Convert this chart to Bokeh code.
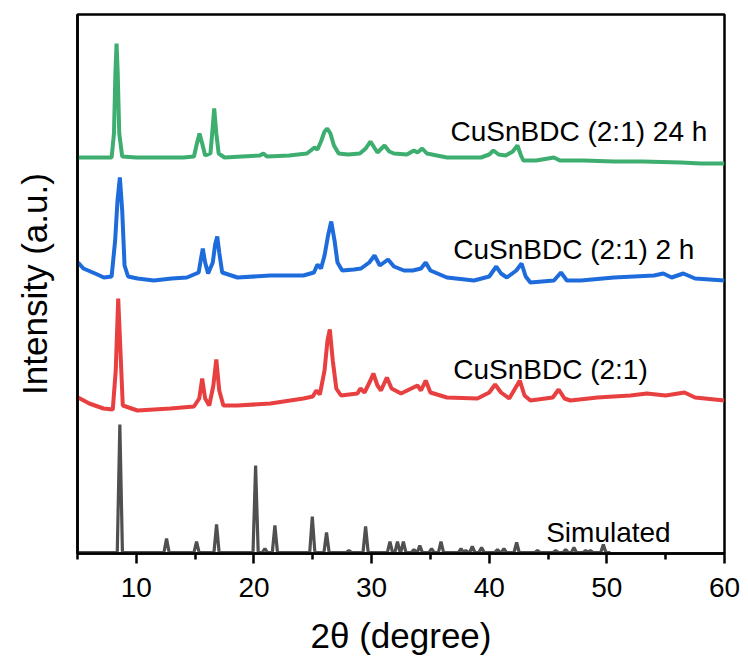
from bokeh.plotting import figure
from bokeh.models import Range1d, FixedTicker, Label
from bokeh.embed import file_html
from bokeh.resources import INLINE

# ---------------- data (offset-stacked intensities, a.u.) ----------------
# CuSnBDC (2:1) 24 h
g_x = [5.0, 7.5, 7.9, 8.1, 8.22, 8.32, 8.42, 8.55, 8.8, 10.0, 12.0, 14.0, 14.9, 15.15, 15.37, 15.6, 15.85,
       16.3, 16.45, 16.62, 16.8, 17.0, 17.5, 19.0, 20.5, 20.8, 21.1, 23.0, 24.5, 25.15, 25.4, 25.7, 26.0,
       26.23, 26.5, 26.8, 27.2, 28.0, 29.0, 29.5, 29.9, 30.5, 31.1, 31.5, 31.9, 33.0, 33.6, 33.9, 34.3,
       34.7, 36.4, 39.3, 40.0, 40.35, 40.8, 41.4, 42.0, 42.4, 42.7, 42.9, 44.0, 45.5, 46.0, 48.0, 50.6,
       53.0, 56.3, 58.0, 60.0]
g_y = [396, 396, 396, 420, 480, 510, 480, 420, 397, 396, 396, 396, 397, 410, 420, 410, 398,
       400, 420, 445, 420, 400, 396, 397, 398, 400, 397, 398, 400, 406, 404, 412, 422,
       425, 420, 408, 400, 399, 400, 405, 412, 401, 408, 402, 400, 399, 403, 401, 405,
       400, 396, 396, 399, 403, 399, 398, 402, 408, 398, 393, 393, 396, 393, 393, 392,
       392, 391, 390, 390]

# CuSnBDC (2:1) 2 h
b_x = [5.05, 5.5, 6.5, 7.24, 7.9, 8.2, 8.4, 8.6, 8.8, 9.0, 9.3, 10.1, 11.5, 13.0, 14.3, 15.3, 15.5, 15.65,
       15.85, 16.1, 16.5, 16.7, 16.88, 17.05, 17.3, 18.6, 21.4, 24.2, 25.1, 25.4, 25.7, 26.0, 26.3, 26.57,
       26.85, 27.1, 27.5, 28.5, 29.1, 29.8, 30.25, 30.7, 31.4, 31.9, 32.75, 33.5, 34.2, 34.6, 35.0, 36.4,
       38.7, 40.0, 40.6, 41.0, 41.5, 42.3, 42.75, 43.1, 43.5, 45.5, 46.1, 46.6, 47.8, 50.6, 54.0, 54.8,
       55.5, 56.5, 57.5, 60.0]
b_y = [291, 285, 280, 276, 277, 313, 353, 376, 343, 288, 277, 275, 273, 275, 276, 281, 295, 305,
       291, 280, 291, 309, 317, 301, 281, 276, 278, 278, 281, 289, 285, 298, 318, 332,
       313, 291, 283, 284, 285, 291, 298, 288, 294, 287, 283, 283, 285, 291, 283, 276,
       273, 277, 287, 280, 276, 283, 290, 277, 271, 273, 281, 273, 273, 276, 278, 280,
       276, 280, 275, 273]

# CuSnBDC (2:1)
r_x = [5.05, 6.0, 7.2, 8.0, 8.25, 8.46, 8.65, 8.85, 10.1, 12.9, 14.9, 15.35, 15.6, 15.85, 16.2, 16.55, 16.8,
       17.05, 17.4, 18.6, 21.4, 24.2, 25.0, 25.3, 25.6, 26.0, 26.25, 26.45, 26.7, 27.0, 27.4, 28.8, 29.05,
       29.4, 29.9, 30.15, 30.5, 30.8, 31.3, 31.7, 32.5, 33.9, 34.2, 34.6, 35.0, 36.4, 39.0, 40.0, 40.5,
       41.0, 41.7, 42.2, 42.6, 43.0, 43.5, 45.4, 45.9, 46.4, 46.9, 49.2, 52.0, 53.4, 55.0, 56.6, 57.5, 60.0]
r_y = [156, 150, 145, 144, 183, 255, 203, 148, 143, 145, 147, 155, 175, 155, 148, 168, 194,
       163, 148, 148, 150, 155, 157, 163, 159, 183, 213, 224, 193, 165, 158, 160, 165,
       161, 173, 180, 168, 163, 176, 165, 160, 168, 163, 173, 161, 156, 155, 161, 169,
       161, 155, 165, 173, 158, 153, 156, 164, 155, 153, 156, 158, 160, 158, 161, 156, 153]

# Simulated pattern: peak positions (2theta) and peak heights
sim_pos = [8.6, 12.57, 15.12, 16.82, 20.14, 20.93, 21.78, 24.96, 26.17, 28.07, 29.49, 31.56, 32.2, 32.7,
           33.6, 34.1, 35.1, 35.9, 37.6, 38.0, 38.56, 39.35, 40.7, 41.25, 42.33, 44.1, 45.65, 46.5,
           47.2, 48.2, 48.6, 49.7]
sim_int = [128, 14, 11, 28, 87, 4, 27, 36, 20, 2, 26, 11, 11, 11,
           3, 7, 4, 11, 4, 2, 6, 5, 3, 4, 10, 2, 2, 3,
           5, 2, 2, 8]
sim_range = [5.0, 50.3]
sim_base = 1

labels = ["CuSnBDC (2:1) 24 h", "CuSnBDC (2:1) 2 h", "CuSnBDC (2:1)", "Simulated"]
x_ticks = [10, 20, 30, 40, 50, 60]
x_minor = [5, 15, 25, 35, 45, 55]

# ---------------- build simulated stick profile ----------------
hw = 0.22
sx, sy = [sim_range[0]], [sim_base]
for pos, h in zip(sim_pos, sim_int):
    sx += [pos - hw, pos, pos + hw]
    sy += [sim_base, sim_base + h, sim_base]
sx.append(sim_range[1]); sy.append(sim_base)

FONT = "Liberation Sans"

p = figure(width=748, height=668, output_backend="svg", toolbar_location=None,
           x_range=Range1d(5, 60), y_range=Range1d(0, 539),
           min_border_left=77, min_border_right=24, min_border_top=14, min_border_bottom=115)
p.background_fill_color = "white"
p.border_fill_color = "white"
p.grid.visible = False
p.outline_line_color = "black"
p.outline_line_width = 2.5

p.line(sx, sy, line_color="#505050", line_width=3.2)
p.line(r_x, r_y, line_color="#E84040", line_width=4)
p.line(b_x, b_y, line_color="#1E6CDC", line_width=4)
p.line(g_x, g_y, line_color="#3DAE70", line_width=4)

# x axis
xa = p.xaxis[0]
xa.ticker = FixedTicker(ticks=x_ticks, minor_ticks=x_minor)
xa.axis_line_width = 2.5
xa.major_tick_line_width = 2.5
xa.minor_tick_line_width = 2.5
xa.major_tick_out = 10
xa.major_tick_in = 0
xa.minor_tick_out = 6
xa.minor_tick_in = 0
xa.major_label_text_font = FONT
xa.major_label_text_font_size = "28px"
xa.major_label_text_color = "black"
xa.major_label_standoff = 14
xa.axis_label = "2θ (degree)"
xa.axis_label_text_font = FONT
xa.axis_label_text_font_size = "35px"
xa.axis_label_text_font_style = "normal"
xa.axis_label_text_color = "black"
xa.axis_label_standoff = 16

# y axis
ya = p.yaxis[0]
ya.ticker = FixedTicker(ticks=[])
ya.axis_line_width = 2.5
ya.major_tick_out = 0
ya.major_tick_in = 0
ya.minor_tick_out = 0
ya.minor_tick_in = 0
ya.major_label_text_font_size = "0px"
ya.major_label_standoff = 0
ya.axis_label = "Intensity (a.u.)"
ya.axis_label_text_font = FONT
ya.axis_label_text_font_size = "35px"
ya.axis_label_text_font_style = "normal"
ya.axis_label_text_color = "black"
ya.axis_label_standoff = 24

# annotations
lab_pos = [(36.71, 422), (36.94, 303.7), (36.94, 183.7), (44.84, 21.3)]
for t, (lx, ly) in zip(labels, lab_pos):
    p.add_layout(Label(x=lx, y=ly, text=t, text_font=FONT, text_font_size="28px",
                       text_color="black", text_baseline="alphabetic", text_align="left"))

open("out.html", "w").write(file_html(p, INLINE))
